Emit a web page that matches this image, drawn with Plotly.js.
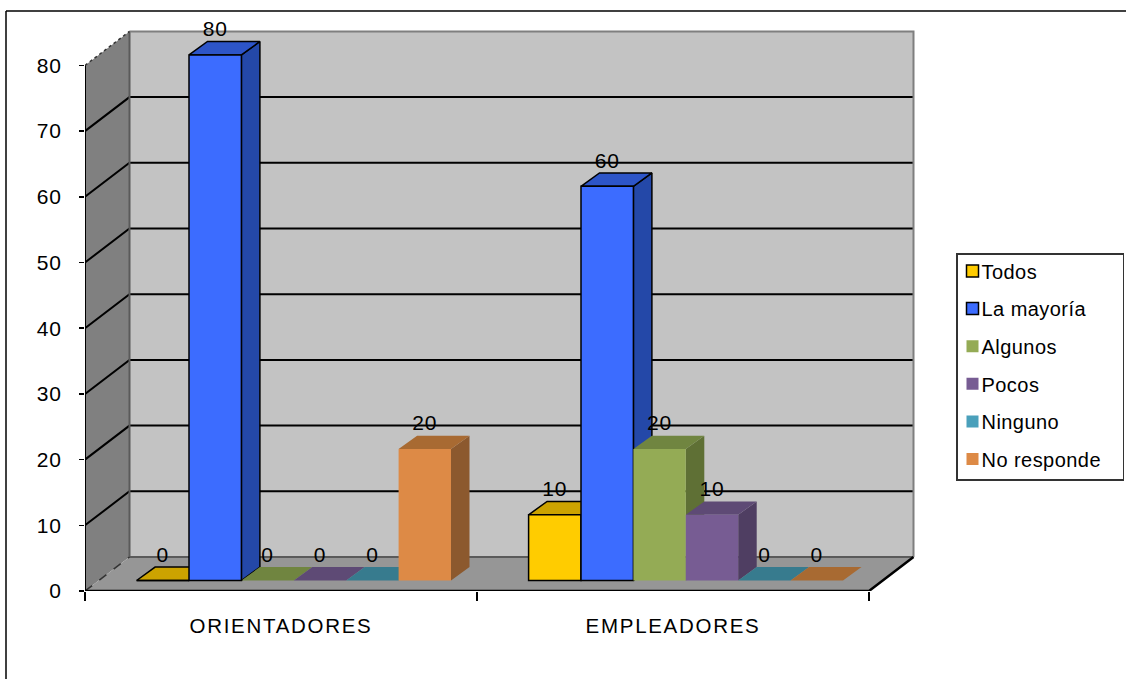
<!DOCTYPE html>
<html><head><meta charset="utf-8">
<script src="https://cdn.plot.ly/plotly-3.0.1.min.js"></script>
<style>
html,body{margin:0;padding:0;background:#fff}
.legendtext{letter-spacing:.45px;transform:translate(-16px,-3px)}
.legendpoints{transform:translate(-5px,-3px)}
.legend .bg{height:226px}
.x2tick text{letter-spacing:1.7px}
.ytick text{letter-spacing:.8px}
.textpoint text{letter-spacing:.8px}
</style></head><body><div id="c" style="width:1126px;height:679px"></div>
<script>
const categories=['ORIENTADORES','EMPLEADORES'];
const seriesNames=['Todos','La mayoría','Algunos','Pocos','Ninguno','No responde'];
const todos=[0,10];
const laMayoria=[80,60];
const algunos=[0,20];
const pocos=[0,10];
const ninguno=[0,0];
const noResponde=[20,0];
const seriesValues=[todos,laMayoria,algunos,pocos,ninguno,noResponde];
const yTicks=[0,10,20,30,40,50,60,70,80];
const frontColors=['#ffcc00','#3c6cff','#94ab55','#775c93','#4aa0bb','#dd8a46'];
const topColors=['#cca300','#2d55c8','#708540','#5e4a75','#377b8e','#a86a32'];
const sideColors=['#a88600','#2448a8','#5f7035','#4f3e62','#2f6a7a','#8c592e'];
const outlined=[true,true,false,false,false,false];

// chart geometry in axis units
const xMax=835/392, yMax=571/6.57;
const wallDx=44.5/392, wallDy=34/6.57;
const barDx=18.5/392, barDy=13.4/6.57;
const baseY=1.6, barW=52.4/392, shift=12.8/392;
const groupX=categories.map((_,i)=>i+0.5+shift);
const nX=categories.length;
const yTop=yTicks[yTicks.length-1];
const traces=[];
function poly(x,y,color,extra){traces.push(Object.assign({type:'scatter',mode:'lines',x,y,fill:'toself',fillcolor:color,line:{width:0,color},showlegend:false,hoverinfo:'skip'},extra||{}));}
function edge(x,y,color,width,dash){traces.push({type:'scatter',mode:'lines',x,y,line:{color,width,dash:dash||'solid'},showlegend:false,hoverinfo:'skip',cliponaxis:false});}
// walls
poly([0,wallDx,wallDx,0,0],[0,wallDy,yTop+wallDy,yTop,0],'#808080');
poly([wallDx,nX+wallDx,nX+wallDx,wallDx,wallDx],[wallDy,wallDy,yTop+wallDy,yTop+wallDy,wallDy],'#c3c3c3');
poly([0,nX,nX+wallDx,wallDx,0],[0,0,wallDy,wallDy,0],'#969696');
// grid
const inner=yTicks.slice(1,-1);
let gx=[],gy=[];
inner.forEach(t=>{gx.push(0,wallDx,nX+wallDx,null);gy.push(t,t+wallDy,t+wallDy,null);});
edge(gx,gy,'#000',2);
edge([wallDx,wallDx,nX+wallDx],[yTop+wallDy,wallDy,wallDy],'#5a5a5a',2);
edge([wallDx,nX+wallDx,nX+wallDx],[yTop+wallDy,yTop+wallDy,wallDy],'#7f7f7f',2);
edge([0,wallDx],[yTop,yTop+wallDy],'#333',1.5,'dot');
edge([0,wallDx],[0,wallDy],'#333',1.5,'dash');
edge([0,0],[0,yTop],'#000',2);
edge([0,nX,nX+wallDx],[0,0,wallDy],'#000',2.5);
// depth faces, left to right
seriesValues.forEach((vals,s)=>{
  const off=(s-2.5)*barW;
  let sx=[],sy=[],tx=[],ty=[];
  vals.forEach((v,g)=>{
    const l=groupX[g]+off-barW/2,r=l+barW,b=baseY,t=baseY+v;
    sx.push(r,r+barDx,r+barDx,r,r,null);sy.push(b,b+barDy,t+barDy,t,b,null);
    tx.push(l,r,r+barDx,l+barDx,l,null);ty.push(t,t,t+barDy,t+barDy,t,null);
  });
  const ln=outlined[s]?{line:{width:1.5,color:'#000'}}:{};
  poly(sx,sy,sideColors[s],ln);
  poly(tx,ty,topColors[s],ln);
});
// front faces
seriesValues.forEach((vals,s)=>{
  traces.push({type:'bar',name:seriesNames[s],legendgroup:seriesNames[s],x:groupX,y:vals,base:vals.map(()=>baseY),xaxis:'x2',yaxis:'y2',
    marker:{color:frontColors[s],line:{color:'#000',width:outlined[s]?1.5:0}},hoverinfo:'skip'});
});
// value labels
seriesValues.forEach((vals,s)=>{
  traces.push({type:'scatter',mode:'text',x:groupX.map(g=>g+(s-2.5)*barW),y:vals.map(v=>v+baseY+barDy),text:vals.map(String),
    textposition:'top center',textfont:{family:'Liberation Sans',size:21,color:'#000'},xaxis:'x2',yaxis:'y2',showlegend:false,hoverinfo:'skip'});
});
const W=835,L=85;
const px=p=>(p-L)/W, py=p=>(591-p)/571;
const layout={
  width:1126,height:679,paper_bgcolor:'#fff',plot_bgcolor:'rgba(0,0,0,0)',
  margin:{l:85,r:206,t:20,b:88,autoexpand:false},barmode:'group',bargap:1-6*barW,showlegend:true,
  font:{family:'Liberation Sans',color:'#000'},
  xaxis:{range:[0,xMax],tickmode:'array',tickvals:categories.map((_,i)=>i).concat(nX),showticklabels:false,ticks:'outside',ticklen:9,tickwidth:1.5,tickcolor:'#000',showgrid:false,zeroline:false,showline:false},
  yaxis:{range:[0,yMax],tickmode:'array',tickvals:yTicks,ticks:'outside',ticklen:5,tickwidth:1.5,tickcolor:'#000',showgrid:false,zeroline:false,showline:false,tickfont:{size:21,color:'#000'},ticklabelstandoff:13},
  xaxis2:{overlaying:'x',anchor:'y2',side:'bottom',range:[0,xMax],tickmode:'array',tickvals:categories.map((_,i)=>i+0.5),ticktext:categories,ticks:'',showgrid:false,zeroline:false,showline:false,tickfont:{size:20.5,color:'#000'},ticklabelstandoff:20},
  yaxis2:{overlaying:'y',range:[0,yMax],visible:false,showgrid:false,zeroline:false},
  legend:{x:px(956),xanchor:'left',y:py(253),yanchor:'top',bgcolor:'#fff',bordercolor:'#333',borderwidth:1.5,font:{size:20,color:'#000'},tracegroupgap:8.6,entrywidth:84,entrywidthmode:'pixels'},
  shapes:[
    {type:'line',xref:'paper',yref:'paper',x0:px(6),x1:px(1126),y0:py(11),y1:py(11),line:{color:'#000',width:1.5}},
    {type:'line',xref:'paper',yref:'paper',x0:px(6),x1:px(6),y0:py(11),y1:py(679),line:{color:'#000',width:1.5}}
  ]
};
Plotly.newPlot('c',traces,layout,{displayModeBar:false,staticPlot:true});
</script></body></html>
